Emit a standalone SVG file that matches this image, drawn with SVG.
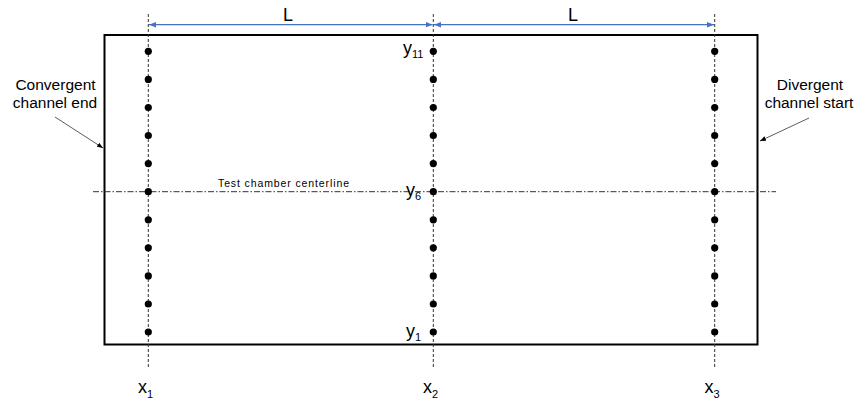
<svg xmlns="http://www.w3.org/2000/svg" width="858" height="401" viewBox="0 0 858 401">
<style>
text{font-family:"Liberation Sans",Arial,sans-serif;fill:#000}
.lbl{font-size:18px}
.side{font-size:15.5px}
.sub{font-size:11px}
.vd{stroke:#333;stroke-width:1;stroke-dasharray:3,2;fill:none}
.dot{fill:#000}
.dim{stroke:#4472C4;stroke-width:1.2;fill:none}
.lead{stroke:#333;stroke-width:0.8;fill:none}
</style>
<defs>
<marker id="ab" viewBox="0 0 10 10" refX="10" refY="5" markerWidth="7" markerHeight="7" orient="auto-start-reverse" markerUnits="userSpaceOnUse">
<path d="M0,1 L10,5 L0,9 Z" fill="#4472C4"/>
</marker>
<marker id="ak" viewBox="0 0 10 10" refX="10" refY="5" markerWidth="6" markerHeight="6" orient="auto" markerUnits="userSpaceOnUse">
<path d="M0,1 L10,5 L0,9 Z" fill="#000"/>
</marker>
<g id="dots">
<circle cx="0" cy="51.3" r="3.6"/><circle cx="0" cy="79.4" r="3.6"/><circle cx="0" cy="107.5" r="3.6"/>
<circle cx="0" cy="135.5" r="3.6"/><circle cx="0" cy="163.6" r="3.6"/><circle cx="0" cy="191.7" r="3.6"/>
<circle cx="0" cy="219.8" r="3.6"/><circle cx="0" cy="247.8" r="3.6"/><circle cx="0" cy="275.9" r="3.6"/>
<circle cx="0" cy="304" r="3.6"/><circle cx="0" cy="332" r="3.6"/>
</g>
</defs>
<g id="chamber">
<rect x="104.5" y="35" width="653" height="309.5" fill="none" stroke="#000" stroke-width="2"/>
</g>
<g id="connectors">
<line class="vd" x1="148.3" y1="14" x2="148.3" y2="369"/>
<line class="vd" x1="433.3" y1="14" x2="433.3" y2="369"/>
<line class="vd" x1="714.7" y1="14" x2="714.7" y2="369"/>
<line x1="93" y1="191.7" x2="776" y2="191.7" stroke="#333" stroke-width="1" stroke-dasharray="6,2,1.5,2"/>
<line class="dim" x1="149" y1="24.7" x2="432.6" y2="24.7" marker-start="url(#ab)" marker-end="url(#ab)"/>
<line class="dim" x1="434" y1="24.7" x2="714" y2="24.7" marker-start="url(#ab)" marker-end="url(#ab)"/>
<line class="lead" x1="55" y1="117" x2="103" y2="148" marker-end="url(#ak)"/>
<line class="lead" x1="809" y1="118" x2="760" y2="141" marker-end="url(#ak)"/>
</g>
<g id="column-x1" class="dot"><use href="#dots" x="148.3"/></g>
<g id="column-x2" class="dot"><use href="#dots" x="433.3"/></g>
<g id="column-x3" class="dot"><use href="#dots" x="714.7"/></g>
<g id="labels">
<text class="lbl" x="288" y="20.5" text-anchor="middle">L</text>
<text class="lbl" x="573" y="20.5" text-anchor="middle">L</text>
<text class="lbl" x="403" y="54">y<tspan class="sub" dy="4">11</tspan></text>
<text class="lbl" x="406" y="196">y<tspan class="sub" dy="4">6</tspan></text>
<text class="lbl" x="406" y="336.5">y<tspan class="sub" dy="4">1</tspan></text>
<text class="lbl" x="138" y="393">x<tspan class="sub" dy="5">1</tspan></text>
<text class="lbl" x="423" y="393">x<tspan class="sub" dy="5">2</tspan></text>
<text class="lbl" x="704.5" y="393">x<tspan class="sub" dy="5">3</tspan></text>
<text x="283.5" y="186.5" text-anchor="middle" font-size="10.5" textLength="131" lengthAdjust="spacing">Test chamber centerline</text>
</g>
<g id="convergent-label">
<text class="side" x="55.5" y="90" text-anchor="middle">Convergent</text>
<text class="side" x="55" y="108" text-anchor="middle">channel end</text>
</g>
<g id="divergent-label">
<text class="side" x="810" y="90" text-anchor="middle">Divergent</text>
<text class="side" x="809" y="108" text-anchor="middle">channel start</text>
</g>
</svg>
